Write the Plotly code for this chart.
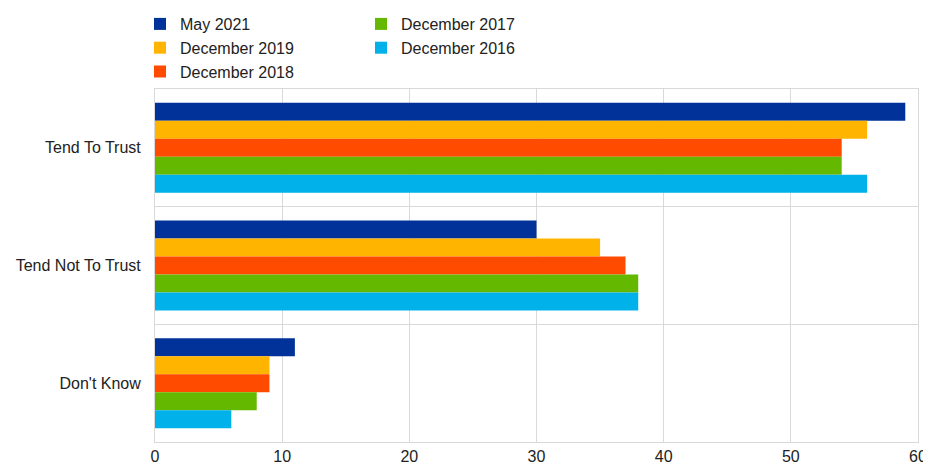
import plotly.graph_objects as go

categories = ["Tend To Trust", "Tend Not To Trust", "Don't Know"]
series_names = ["May 2021", "December 2019", "December 2018", "December 2017", "December 2016"]
may_2021 = [59, 30, 11]
dec_2019 = [56, 35, 9]
dec_2018 = [54, 37, 9]
dec_2017 = [54, 38, 8]
dec_2016 = [56, 38, 6]
series_values = [may_2021, dec_2019, dec_2018, dec_2017, dec_2016]
colors = ["#003299", "#FFB400", "#FF4B00", "#65B800", "#00B1EA"]
x_ticks = [0, 10, 20, 30, 40, 50, 60]

fig = go.Figure()
for i, (name, vals, col) in enumerate(zip(series_names, series_values, colors)):
    fig.add_trace(go.Bar(
        y=categories, x=vals, name=name, orientation="h",
        marker=dict(color=col, line=dict(width=0)),
        legend="legend" if i < 3 else "legend2",
    ))

# page body has an 8px margin, so figure coords = viewport coords - 8
OFF = 8
W, H = 931 - OFF, 468 - OFF
ml = 155 - OFF
mt = 89 - OFF
mr = W - (918 - OFF)
mb = H - (442 - OFF)
pw = W - ml - mr
ph = H - mt - mb

def px_x(p):
    return (p - ml) / pw

def px_y(p):
    return (H - mb - p) / ph

font = dict(family="Liberation Sans, Arial, sans-serif", size=16, color="#222222")

fig.update_layout(
    width=W, height=H,
    margin=dict(l=ml, r=mr, t=mt, b=mb, autoexpand=False),
    paper_bgcolor="white", plot_bgcolor="white",
    font=font,
    barmode="group", bargap=0.235, bargroupgap=0,
    legend=dict(x=px_x(132), y=px_y(-1), xanchor="left", yanchor="top",
                orientation="v", font=font, bgcolor="rgba(0,0,0,0)",
                tracegroupgap=0, itemclick=False),
    legend2=dict(x=px_x(353), y=px_y(-1), xanchor="left", yanchor="top",
                 orientation="v", font=font, bgcolor="rgba(0,0,0,0)",
                 tracegroupgap=0, itemclick=False),
    xaxis=dict(range=[0, 60], tickvals=x_ticks, showgrid=True, gridcolor="#d9d9d9",
               gridwidth=1, showline=True, linecolor="#d9d9d9", linewidth=1, mirror=True,
               zeroline=False, ticks="", tickfont=font, fixedrange=True, automargin=False,
               ticklabeloverflow="allow"),
    yaxis=dict(autorange="reversed", showgrid=True, gridcolor="#d9d9d9", gridwidth=1,
               tickson="boundaries", ticks="", showline=True, linecolor="#d9d9d9",
               linewidth=1, mirror=True, tickfont=font, ticklabelstandoff=10,
               fixedrange=True, automargin=False),
    showlegend=True,
)

fig.write_html(
    "out.html",
    post_script="document.documentElement.style.overflow='hidden';document.body.style.overflow='hidden';",
)
